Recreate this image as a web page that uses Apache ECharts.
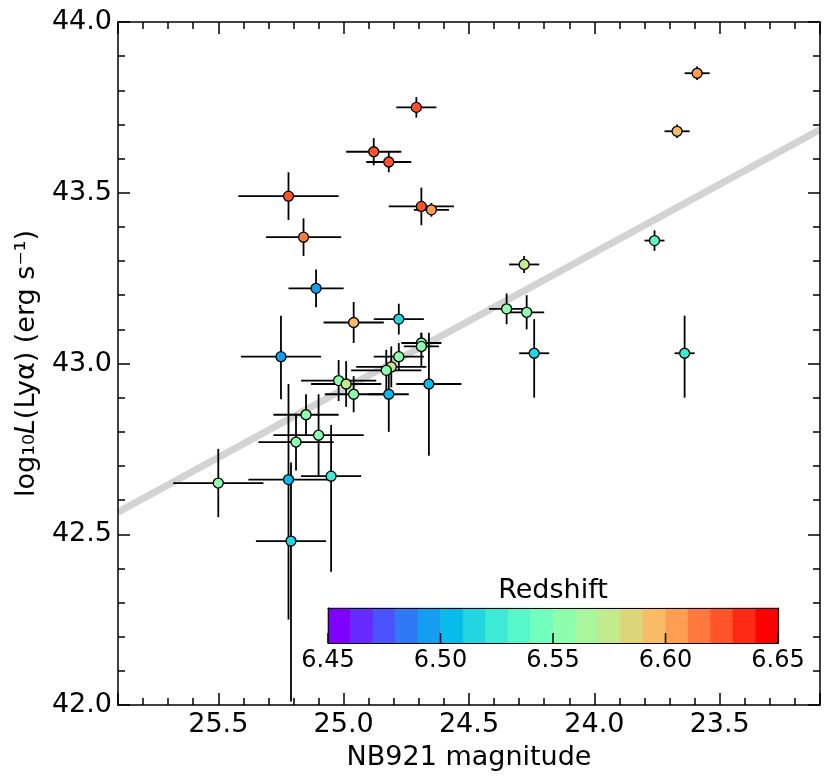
<!DOCTYPE html>
<html><head><meta charset="utf-8">
<script src="https://cdn.jsdelivr.net/npm/echarts@6.0.0/dist/echarts.min.js"></script>
<style>html,body{margin:0;padding:0;background:#fff}#c{width:831px;height:783px}</style>
</head><body><div id="c"></div>
<script>
// ---- data ----
const mag      = [24.88, 24.82, 25.22, 25.16, 24.69, 24.65, 25.11, 24.96, 24.78, 25.25, 24.69, 24.69, 24.66, 24.78, 24.81, 24.83, 24.82, 25.02, 24.99, 24.96, 25.15, 25.10, 25.19, 25.50, 25.22, 25.05, 25.21, 24.28, 24.35, 24.27, 24.24, 23.76, 23.64, 23.59, 23.67, 24.71];
const magErr   = [0.11, 0.09, 0.20, 0.15, 0.13, 0.07, 0.11, 0.12, 0.10, 0.16, 0.08, 0.07, 0.13, 0.10, 0.14, 0.14, 0.08, 0.15, 0.14, 0.115, 0.13, 0.18, 0.15, 0.18, 0.16, 0.12, 0.14, 0.06, 0.07, 0.07, 0.06, 0.04, 0.04, 0.05, 0.05, 0.08];
const lum      = [43.62, 43.59, 43.49, 43.37, 43.46, 43.45, 43.22, 43.12, 43.13, 43.02, 43.06, 43.05, 42.94, 43.02, 42.99, 42.98, 42.91, 42.95, 42.94, 42.91, 42.85, 42.79, 42.77, 42.65, 42.66, 42.67, 42.48, 43.29, 43.16, 43.15, 43.03, 43.36, 43.03, 43.85, 43.68, 43.75];
const lumErrLo = [0.04, 0.03, 0.07, 0.055, 0.055, 0.02, 0.055, 0.06, 0.045, 0.125, 0.03, 0.06, 0.21, 0.04, 0.06, 0.06, 0.11, 0.06, 0.067, 0.053, 0.06, 0.12, 0.083, 0.10, 0.41, 0.28, 0.47, 0.025, 0.045, 0.05, 0.13, 0.03, 0.13, 0.02, 0.02, 0.03];
const lumErrHi = [0.04, 0.03, 0.07, 0.055, 0.055, 0.02, 0.055, 0.06, 0.045, 0.12, 0.03, 0.04, 0.15, 0.04, 0.06, 0.06, 0.08, 0.06, 0.067, 0.053, 0.06, 0.12, 0.083, 0.10, 0.28, 0.15, 0.23, 0.025, 0.045, 0.05, 0.10, 0.03, 0.11, 0.02, 0.02, 0.03];
const redshift = [6.625, 6.625, 6.625, 6.615, 6.625, 6.605, 6.495, 6.595, 6.515, 6.495, 6.545, 6.555, 6.505, 6.555, 6.575, 6.555, 6.505, 6.555, 6.575, 6.555, 6.555, 6.555, 6.555, 6.555, 6.505, 6.525, 6.515, 6.575, 6.555, 6.555, 6.515, 6.535, 6.525, 6.605, 6.595, 6.625];

const fitMag = [25.9, 23.1];
const fitLum = [42.565, 43.685];

const magRange = [23.1, 25.9];
const lumRange = [42.0, 44.0];
const zRange   = [6.45, 6.65];
const zTicks   = [6.45, 6.50, 6.55, 6.60, 6.65];
const zEdges   = [6.45, 6.46, 6.47, 6.48, 6.49, 6.50, 6.51, 6.52, 6.53, 6.54, 6.55, 6.56, 6.57, 6.58, 6.59, 6.60, 6.61, 6.62, 6.63, 6.64, 6.65];
const zColors  = ['#8000ff','#652afe','#4a53fc','#2f79f7','#149df1','#07bcea','#22d5e0','#3cead5','#57f7c9','#72febc','#8dfead','#a8f79d','#c3ea8b','#ddd579','#f8bc66','#ff9d53','#ff793f','#ff532a','#ff2a15','#ff0000'];

const xLabel = 'NB921 magnitude';
const zLabel = 'Redshift';

// ---- chart ----
const FONT = 'DejaVu Sans';
const BLK = '#000';
const chart = echarts.init(document.getElementById('c'), null, {renderer: 'canvas'});

const errData = mag.map((m, i) => [m, lum[i], magErr[i], lumErrLo[i], lumErrHi[i]]);
const ptData  = mag.map((m, i) => [m, lum[i], redshift[i]]);
const fitData = fitMag.map((m, i) => [m, fitLum[i]]);
const cbData  = zColors.map((c, i) => [zEdges[i], zEdges[i + 1], i]);
const cbTickData = zTicks.map(v => [v, 0]);

const tickStyle = {color: BLK, width: 1.5};
function mainX(pos, showLabel) {
  return {
    gridIndex: 0, type: 'value', position: pos, min: magRange[0], max: magRange[1],
    inverse: true, splitNumber: 5, z: 5,
    axisLine: {show: true, onZero: false, lineStyle: {color: BLK, width: 1.5}},
    axisTick: {show: true, inside: true, length: 12, lineStyle: tickStyle},
    minorTick: {show: true, splitNumber: 5, length: 7, lineStyle: tickStyle},
    splitLine: {show: false},
    axisLabel: {show: showLabel, fontSize: 27, fontFamily: FONT, color: BLK, margin: 6,
                formatter: v => v.toFixed(1), showMinLabel: false, showMaxLabel: false},
    name: showLabel ? xLabel : '', nameLocation: 'middle', nameGap: 39,
    nameTextStyle: {fontSize: 27, fontFamily: FONT, color: BLK}
  };
}
function mainY(pos, showLabel) {
  return {
    gridIndex: 0, type: 'value', position: pos, min: lumRange[0], max: lumRange[1],
    interval: 0.5, z: 5,
    axisLine: {show: true, onZero: false, lineStyle: {color: BLK, width: 1.5}},
    axisTick: {show: true, inside: true, length: 12, lineStyle: tickStyle},
    minorTick: {show: true, splitNumber: 5, length: 7, lineStyle: tickStyle},
    splitLine: {show: false},
    axisLabel: {show: showLabel, fontSize: 27, fontFamily: FONT, color: BLK, margin: 6,
                formatter: v => v.toFixed(1)},
    name: showLabel ? '{a|log₁₀}{b|L}{a|(Lyα) (erg s⁻¹)}' : '',
    nameLocation: 'middle', nameGap: 78, nameRotate: 90,
    nameTextStyle: {fontSize: 27, fontFamily: FONT, color: BLK,
      rich: {a: {fontSize: 27, fontFamily: FONT, color: BLK},
             b: {fontSize: 27, fontFamily: FONT, color: BLK, fontStyle: 'italic'}}}
  };
}
function cbY(pos) {
  return {gridIndex: 1, type: 'value', position: pos, min: 0, max: 1, z: 5,
    axisLine: {show: true, onZero: false, lineStyle: {color: BLK, width: 1.2}},
    axisTick: {show: false}, axisLabel: {show: false}, splitLine: {show: false}};
}

const option = {
  animation: false,
  backgroundColor: '#fff',
  textStyle: {fontFamily: FONT, color: BLK},
  grid: [
    {left: 118, top: 22, right: 11, bottom: 78, outerBoundsMode: 'none', containLabel: false},
    {left: 328, top: 608, width: 450, height: 35, outerBoundsMode: 'none', containLabel: false}
  ],
  xAxis: [
    mainX('bottom', true),
    mainX('top', false),
    {
      gridIndex: 1, type: 'value', position: 'bottom', min: zRange[0], max: zRange[1], z: 5,
      axisLine: {show: true, onZero: false, lineStyle: {color: BLK, width: 1.2}},
      axisTick: {show: false}, axisLabel: {show: false}, splitLine: {show: false}
    },
    {
      gridIndex: 1, type: 'value', position: 'top', min: zRange[0], max: zRange[1], z: 5,
      axisLine: {show: true, onZero: false, lineStyle: {color: BLK, width: 1.2}},
      axisTick: {show: false}, axisLabel: {show: false}, splitLine: {show: false},
      name: zLabel, nameLocation: 'middle', nameGap: 4,
      nameTextStyle: {fontSize: 27, fontFamily: FONT, color: BLK}
    }
  ],
  yAxis: [mainY('left', true), mainY('right', false), cbY('left'), cbY('right')],
  visualMap: {
    type: 'piecewise', show: false, seriesIndex: 2, dimension: 2,
    pieces: zColors.map((c, i) => ({gte: zEdges[i], lt: zEdges[i + 1], color: c}))
  },
  series: [
    {
      type: 'line', xAxisIndex: 0, yAxisIndex: 0, data: fitData, symbol: 'none', z: 1,
      lineStyle: {color: '#d3d3d3', width: 7}, silent: true
    },
    {
      type: 'custom', xAxisIndex: 0, yAxisIndex: 0, data: errData, z: 2,
      encode: {x: 0, y: 1},
      renderItem: function (params, api) {
        const m = api.value(0), L = api.value(1), e = api.value(2), lo = api.value(3), hi = api.value(4);
        const a = api.coord([m - e, L]), b = api.coord([m + e, L]);
        const c = api.coord([m, L - lo]), d = api.coord([m, L + hi]);
        const st = {stroke: BLK, lineWidth: 1.8};
        return {type: 'group', children: [
          {type: 'line', shape: {x1: a[0], y1: a[1], x2: b[0], y2: b[1]}, style: st},
          {type: 'line', shape: {x1: c[0], y1: c[1], x2: d[0], y2: d[1]}, style: st}
        ]};
      }
    },
    {
      type: 'scatter', xAxisIndex: 0, yAxisIndex: 0, data: ptData, z: 3,
      symbol: 'circle', symbolSize: 10,
      itemStyle: {borderColor: BLK, borderWidth: 1.3, opacity: 1}
    },
    {
      type: 'custom', xAxisIndex: 2, yAxisIndex: 2, data: cbData, z: 2,
      encode: {x: [0, 1]},
      renderItem: function (params, api) {
        const p0 = api.coord([api.value(0), 0]);
        const p1 = api.coord([api.value(1), 1]);
        const col = zColors[api.value(2)];
        return {type: 'rect',
          shape: {x: p0[0], y: p1[1], width: p1[0] - p0[0], height: p0[1] - p1[1]},
          style: {fill: col, stroke: col, lineWidth: 0.6}};
      }
    },
    {
      type: 'custom', xAxisIndex: 2, yAxisIndex: 2, data: cbTickData, z: 6, clip: false,
      encode: {x: 0, y: 1},
      renderItem: function (params, api) {
        const v = api.value(0);
        const p = api.coord([v, 0]);
        return {type: 'group', children: [
          {type: 'line', shape: {x1: p[0], y1: p[1], x2: p[0], y2: p[1] - 10},
           style: {stroke: BLK, lineWidth: 1.5}},
          {type: 'text', x: p[0], y: p[1] + 6,
           style: {text: v.toFixed(2), fontSize: 24, fontFamily: FONT, fill: BLK,
                   align: 'center', verticalAlign: 'top'}}
        ]};
      }
    }
  ]
};
chart.setOption(option);
</script>
</body></html>
